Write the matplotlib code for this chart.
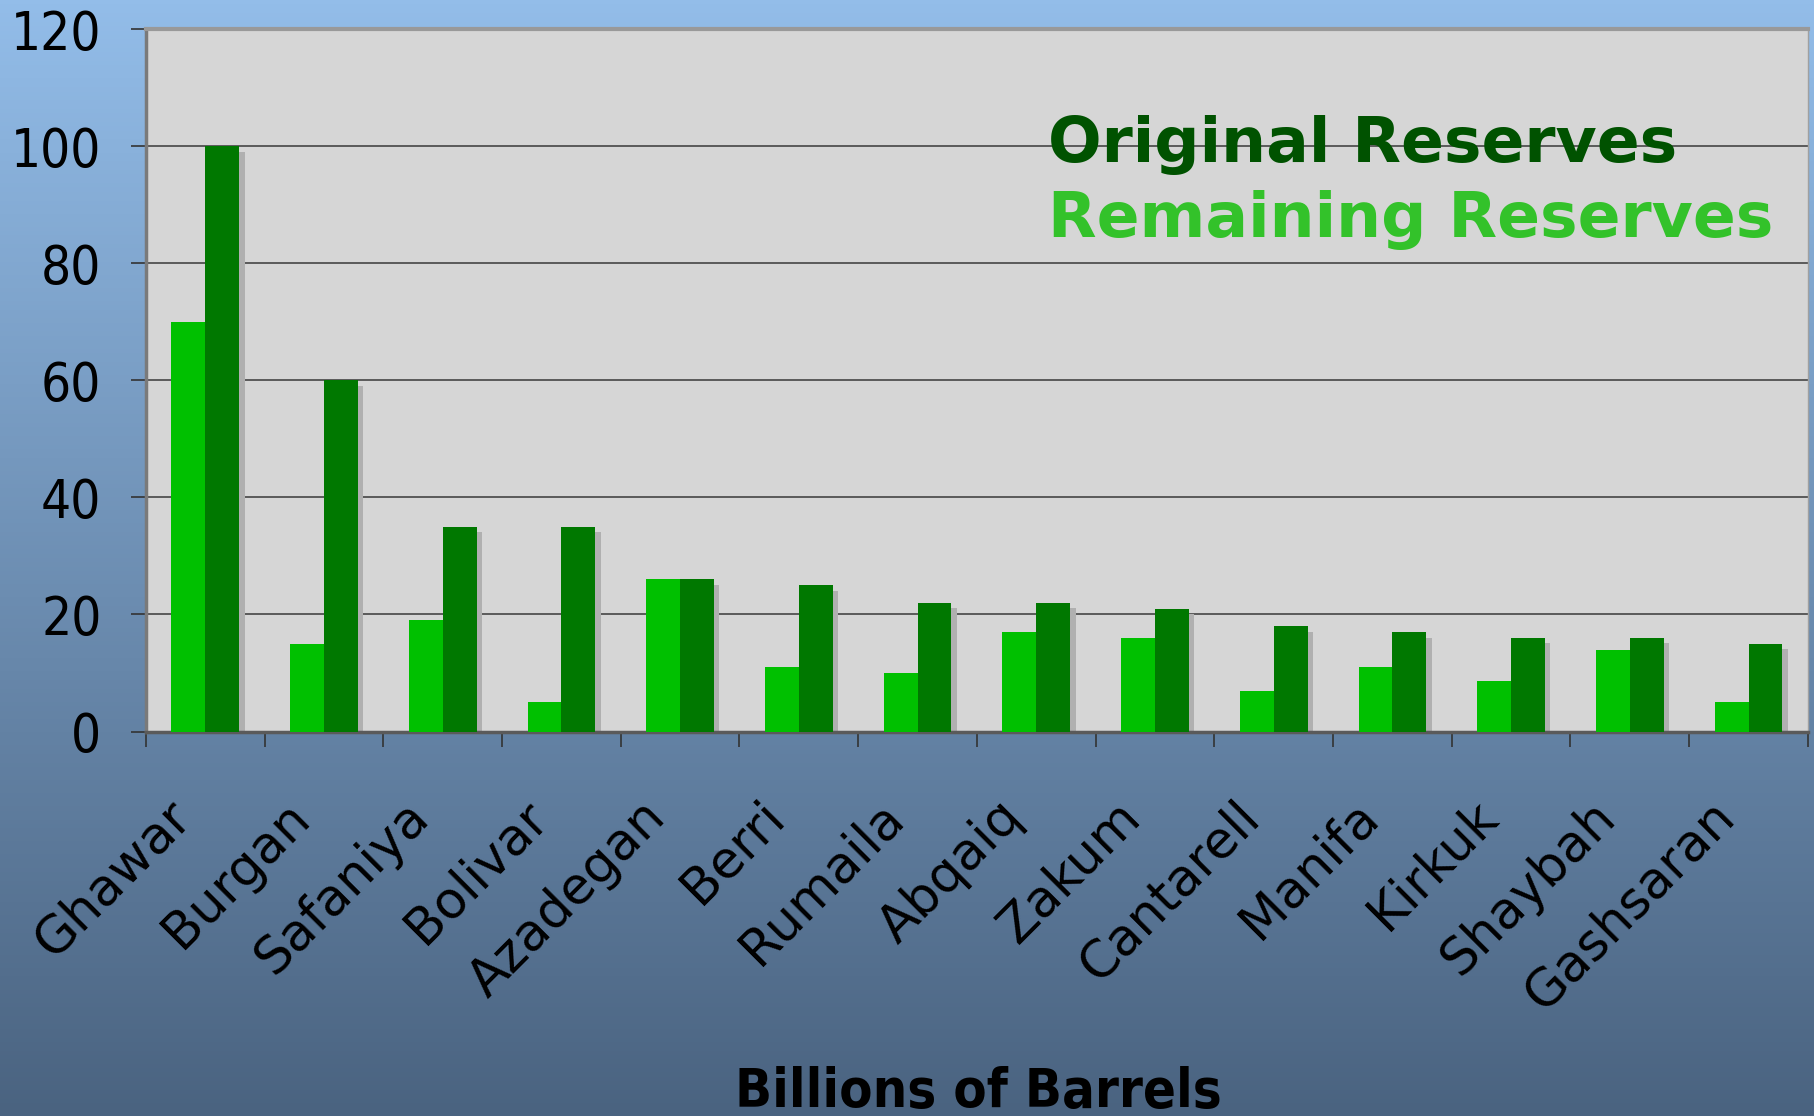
import numpy as np
import matplotlib
matplotlib.use("Agg")
import matplotlib.pyplot as plt
from matplotlib.colors import LinearSegmentedColormap
from matplotlib.transforms import ScaledTranslation

fields = ["Ghawar", "Burgan", "Safaniya", "Bolivar", "Azadegan", "Berri", "Rumaila",
          "Abqaiq", "Zakum", "Cantarell", "Manifa", "Kirkuk", "Shaybah", "Gashsaran"]
remaining = [70, 15, 19, 5, 26, 11, 10, 17, 16, 7, 11, 8.7, 14, 5]
original = [100, 60, 35, 35, 26, 25, 22, 22, 21, 18, 17, 16, 16, 15]
yticks = [0, 20, 40, 60, 80, 100, 120]

REMAIN_BAR = "#00c000"
ORIG_BAR = "#007800"
REMAIN_TXT = "#33c22a"
ORIG_TXT = "#005200"
PLOT_BG = "#d6d6d6"

fig = plt.figure(figsize=(18.15, 11.16), dpi=100)

# background gradient, light blue at top to slate at bottom
bg = fig.add_axes([0, 0, 1, 1], zorder=-10)
grad = np.linspace(0, 1, 256).reshape(-1, 1)
cmap = LinearSegmentedColormap.from_list("bg", ["#93bde9", "#4a6380"])
bg.imshow(grad, aspect="auto", cmap=cmap, extent=[0, 1, 0, 1], origin="upper")
bg.set_axis_off()

ax = fig.add_axes([0.0804, 0.3445, 0.9157, 0.6295])
ax.set_facecolor(PLOT_BG)

x = np.arange(len(fields))
w = 0.285
shadow = ax.transData + ScaledTranslation(0.055, -0.055, fig.dpi_scale_trans)
for xs, vals in ((x - w / 2, remaining), (x + w / 2, original)):
    ax.bar(xs, vals, width=w, color="#b0b0b0", transform=shadow, zorder=2)
ax.bar(x - w / 2, remaining, width=w, color=REMAIN_BAR, zorder=3)
ax.bar(x + w / 2, original, width=w, color=ORIG_BAR, zorder=3)

ax.set_xlim(-0.5, len(fields) - 0.5)
ax.set_ylim(0, 120)
ax.set_yticks(yticks)
ax.set_yticklabels([str(v) for v in yticks], fontsize=38, fontstretch="condensed")
ax.grid(axis="y", color="#505050", linewidth=1.3, zorder=1)
ax.set_axisbelow(True)

# boundary ticks below the axis, labels at category centres
ax.set_xticks(np.arange(len(fields) + 1) - 0.5)
ax.set_xticklabels([])
ax.set_xticks(x, minor=True)
ax.set_xticklabels(fields, minor=True, rotation=45, ha="right", va="center",
                   rotation_mode="anchor", fontsize=37)
ax.tick_params(axis="x", which="major", length=11, width=1.2, color="#333333")
ax.tick_params(axis="x", which="minor", length=0, pad=56)
ax.tick_params(axis="y", length=11, width=1.2, color="#333333", pad=21)
for lab in ax.get_xticklabels(minor=True):
    lab.set_transform(lab.get_transform() + ScaledTranslation(-0.22, 0, fig.dpi_scale_trans))

ax.spines["top"].set_color("#999999")
ax.spines["top"].set_linewidth(3)
ax.spines["left"].set_color("#7a7a7a")
ax.spines["left"].set_linewidth(2.5)
ax.spines["bottom"].set_color("#5a5a5a")
ax.spines["bottom"].set_linewidth(2.5)
ax.spines["right"].set_color("#a0a0a0")
ax.spines["right"].set_linewidth(1)

fig.text(0.5774, 0.8548, "Original Reserves", color=ORIG_TXT, fontsize=45.5,
         fontweight="bold", va="baseline", ha="left")
fig.text(0.5774, 0.7876, "Remaining Reserves", color=REMAIN_TXT, fontsize=45.5,
         fontweight="bold", va="baseline", ha="left")

fig.text(0.539, 0.008, "Billions of Barrels", fontsize=39, fontweight="bold",
         fontstretch="condensed", ha="center", va="baseline")

fig.savefig("out.png", dpi=100)
